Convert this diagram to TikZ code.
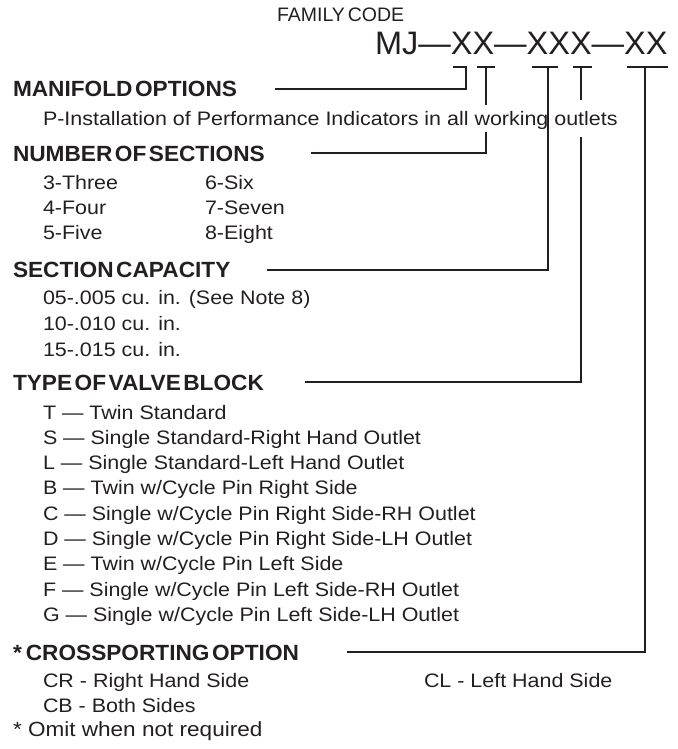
\documentclass[tikz,border=0pt]{standalone}
\usepackage{fontspec}
\setmainfont{Liberation Sans}
\newfontfamily\bodyf[FakeStretch=1.1]{Liberation Sans}
\newfontfamily\headf[FakeStretch=1.03]{Liberation Sans}
\newcommand\hgap{\hspace{2.5pt}}
\definecolor{ink}{HTML}{231F20}
\begin{document}
\begin{tikzpicture}[x=1pt,y=-1pt,
  every node/.style={inner sep=0pt, outer sep=0pt, anchor=base west, text=ink},
  head/.style={font=\headf\bfseries\fontsize{22}{24}\selectfont},
  item/.style={font=\bodyf\fontsize{19.5}{21}\selectfont},
  note/.style={font=\bodyf\fontsize{20.5}{22}\selectfont},
  famtext/.style={font=\fontsize{19.5}{21}\selectfont},
  codetext/.style={font=\fontsize{32.5}{34}\selectfont},
  lead/.style={draw=ink, line width=1.8pt},
  ]
\useasboundingbox (0,0) rectangle (677,749);

% family code
\node[famtext] (fam) at (277,22) {FAMILY\hspace{3pt}CODE};
\node[codetext] (code) at (375,55) {MJ—XX—XXX—XX};

% headings
\node[head] (mo) at (13,97) {MANIFOLD\hgap OPTIONS};
\node[head] (ns) at (13,161) {NUMBER\hgap OF\hgap SECTIONS};
\node[head] (sc) at (13,277.8) {SECTION\hgap CAPACITY};
\node[head] (tv) at (13,390) {TYPE\hgap OF\hgap VALVE\hgap BLOCK};
\node[head] (co) at (13,660) {*\hspace{4pt}CROSSPORTING\hgap OPTION};

% manifold options
\node[item] (p) at (43,125) {P-Installation of Performance Indicators in all working outlets};

% number of sections
\node[item] (n3) at (43,189) {3-Three};
\node[item] (n4) at (43,214) {4-Four};
\node[item] (n5) at (43,239) {5-Five};
\node[item] (n6) at (205,189) {6-Six};
\node[item] (n7) at (205,214) {7-Seven};
\node[item] (n8) at (205,239) {8-Eight};

% section capacity
\node[item] (c05) at (43,304.5) {05-.005 cu. in. (See Note 8)};
\node[item] (c10) at (43,330.5) {10-.010 cu. in.};
\node[item] (c15) at (43,356.5) {15-.015 cu. in.};

% valve blocks
\node[item] (vT) at (43,419)   {T — Twin Standard};
\node[item] (vS) at (43,444.3) {S — Single Standard-Right Hand Outlet};
\node[item] (vL) at (43,469.6) {L — Single Standard-Left Hand Outlet};
\node[item] (vB) at (43,494.9) {B — Twin w/Cycle Pin Right Side};
\node[item] (vC) at (43,520.2) {C — Single w/Cycle Pin Right Side-RH Outlet};
\node[item] (vD) at (43,545.5) {D — Single w/Cycle Pin Right Side-LH Outlet};
\node[item] (vE) at (43,570.8) {E — Twin w/Cycle Pin Left Side};
\node[item] (vF) at (43,596.1) {F — Single w/Cycle Pin Left Side-RH Outlet};
\node[item] (vG) at (43,621.4) {G — Single w/Cycle Pin Left Side-LH Outlet};

% crossporting
\node[item] (cr) at (43,687) {CR - Right Hand Side};
\node[item] (cl) at (424,687) {CL - Left Hand Side};
\node[item] (cb) at (43,712) {CB - Both Sides};
\node[note] (om) at (13,736) {* Omit when not required};

% underline bars under the code
\coordinate (u1a) at (453,67); \coordinate (u1b) at (467,67);
\coordinate (u2a) at (477,67); \coordinate (u2b) at (495,67);
\coordinate (u3a) at (532,67); \coordinate (u3b) at (558,67);
\coordinate (u4a) at (573,67); \coordinate (u4b) at (592,67);
\coordinate (u5a) at (627,67); \coordinate (u5b) at (668,67);
\foreach \i in {1,...,5} {\draw[lead] (u\i a) -- (u\i b);}

% leader junctions
\coordinate (k1) at (466,67);
\coordinate (k2) at (486,67);
\coordinate (k2e) at (486,105);
\coordinate (k2r) at (486,132);
\coordinate (k3) at (548,67);
\coordinate (k4) at (581,67);
\coordinate (k4e) at (581,100);
\coordinate (k4r) at (581,137);
\coordinate (k5) at (645,67);

% leader ends next to the headings
\coordinate (s1) at (275,89);
\coordinate (s2) at (311,153);
\coordinate (s3) at (267,270);
\coordinate (s4) at (305,382);
\coordinate (s5) at (347,652);

\draw[lead] (k1) |- (s1);
\draw[lead] (k2) -- (k2e);
\draw[lead] (k2r) |- (s2);
\draw[lead] (k3) |- (s3);
\draw[lead] (k4) -- (k4e);
\draw[lead] (k4r) |- (s4);
\draw[lead] (k5) |- (s5);
\end{tikzpicture}
\end{document}
